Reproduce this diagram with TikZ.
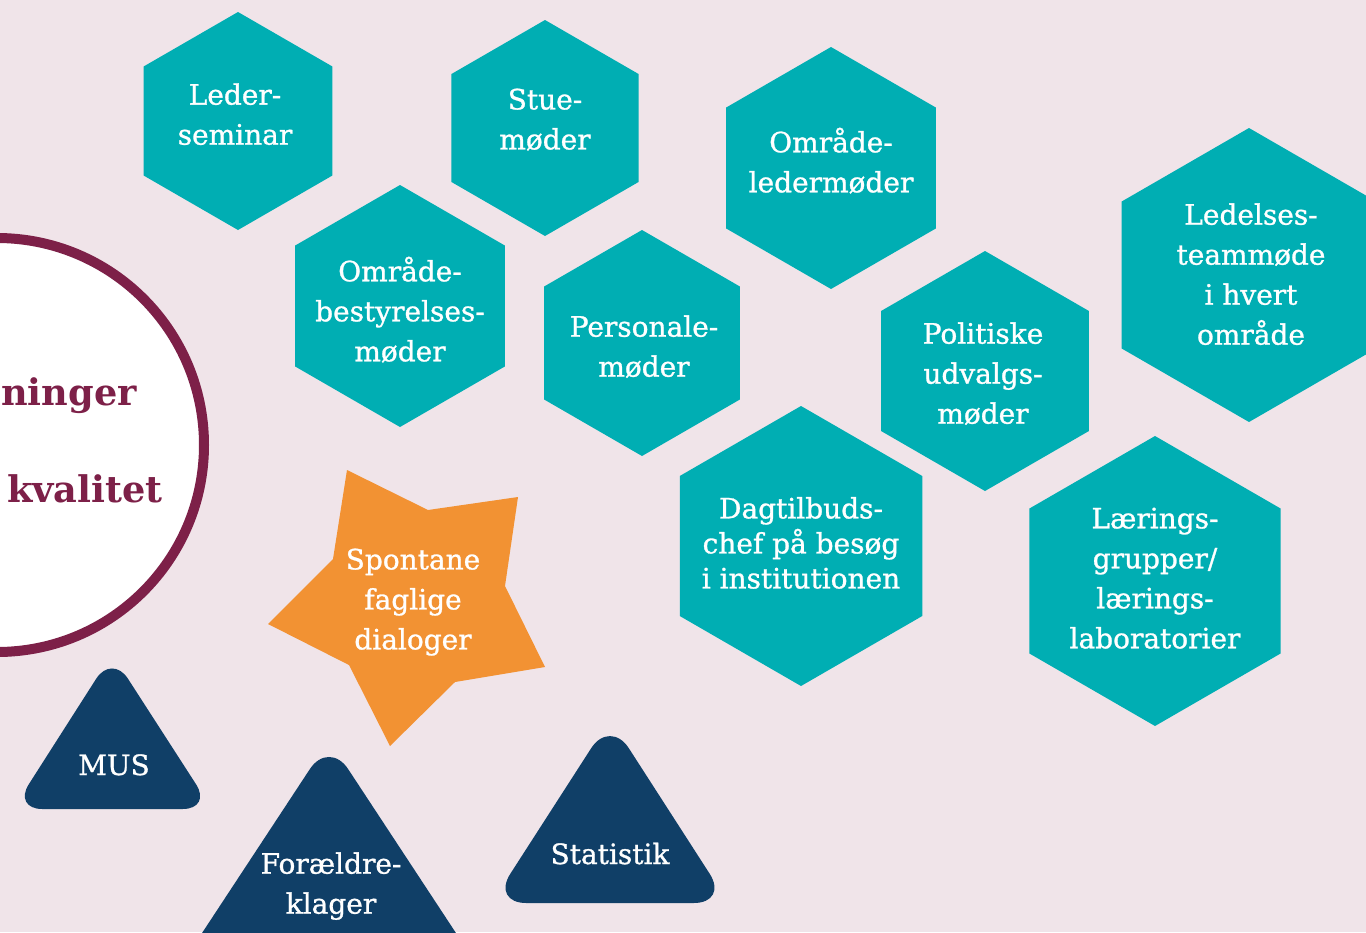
\documentclass[tikz,border=0pt]{standalone}
\usepackage{fontspec}
\setmainfont{DejaVu Serif}
\newfontfamily\lblfont[FakeBold=1]{DejaVu Serif}
\definecolor{bgc}{RGB}{240,228,233}
\definecolor{tealc}{RGB}{0,174,179}
\definecolor{orangec}{RGB}{242,146,51}
\definecolor{navyc}{RGB}{16,63,103}
\definecolor{maroonc}{RGB}{125,32,72}
\tikzset{
  lbl/.style={text=white, align=center, inner sep=0pt, font=\lblfont\fontsize{21}{30}\selectfont,
    execute at begin node={\strut}, execute at end node={\strut}},
  lbltight/.style={lbl, font=\lblfont\fontsize{21}{26.25}\selectfont},
  bigword/.style={text=maroonc, inner sep=0pt, anchor=base west, font=\fontsize{27.5}{30}\bfseries\selectfont},
  hexfill/.style={fill=tealc},
  trifill/.style={fill=navyc},
}
\newcommand\hexat[3]{\fill[hexfill] (#1,#2) +(90:#3) -- +(150:#3) -- +(210:#3) -- +(270:#3) -- +(330:#3) -- +(30:#3) -- cycle;}
\begin{document}
\begin{tikzpicture}[x=0.75pt,y=-0.75pt]
\useasboundingbox (0,0) rectangle (1366,932);
\fill[bgc] (0,0) rectangle (1366,932);
% circle
\draw[maroonc, fill=white, line width=7.5pt] (-3,445) circle[radius=207];
\node[bigword] (w1) at (1,405) {ninger};
\node[bigword] (w2) at (7,502) {kvalitet};
% hexagons
\hexat{238}{121}{109}
\hexat{545}{128}{108}
\hexat{831}{168}{121}
\hexat{1249}{275}{147}
\hexat{400}{306}{121}
\hexat{642}{343}{113}
\hexat{985}{371}{120}
\hexat{801}{546}{140}
\hexat{1155}{581}{145}
\node[lbl] (h1) at (235,120) {Leder-\\seminar};
\node[lbl] (h2) at (545,125) {Stue-\\møder};
\node[lbl] (h3) at (831,166) {Område-\\ledermøder};
\node[lbl] (h4) at (1251,280) {Ledelses-\\teammøde\\i hvert\\område};
\node[lbl] (h5) at (400,315) {Område-\\bestyrelses-\\møder};
\node[lbl] (h6) at (644,352) {Personale-\\møder};
\node[lbl] (h7) at (983,379) {Politiske\\udvalgs-\\møder};
\node[lbltight] (h8) at (801,548) {Dagtilbuds-\\chef på besøg\\i institutionen};
\node[lbl] (h9) at (1155,584) {Lærings-\\grupper/\\lærings-\\laboratorier};
% star
\fill[orangec] (347,470) -- (428,510) -- (518,497) -- (505,586) -- (545,667) -- (455,682) -- (390,746) -- (349,665) -- (268,624) -- (333,559) -- cycle;
\node[lbl] (s1) at (413,605) {Spontane\\faglige\\dialoger};
% triangles
\fill[trifill, rounded corners=22pt] (112,809) -- (212,809) -- (112,654) -- (13,809) -- cycle;
\fill[trifill, rounded corners=26pt] (610,903) -- (728.5,903) -- (610,719) -- (491.5,903) -- cycle;
\fill[trifill, rounded corners=26pt] (329,965) -- (477,965) -- (329,740) -- (181,965) -- cycle;
\node[lbl] (t1) at (114,767) {MUS};
\node[lbl] (t2) at (331,889) {Forældre-\\klager};
\node[lbl] (t3) at (610,856) {Statistik};
\end{tikzpicture}
\end{document}
